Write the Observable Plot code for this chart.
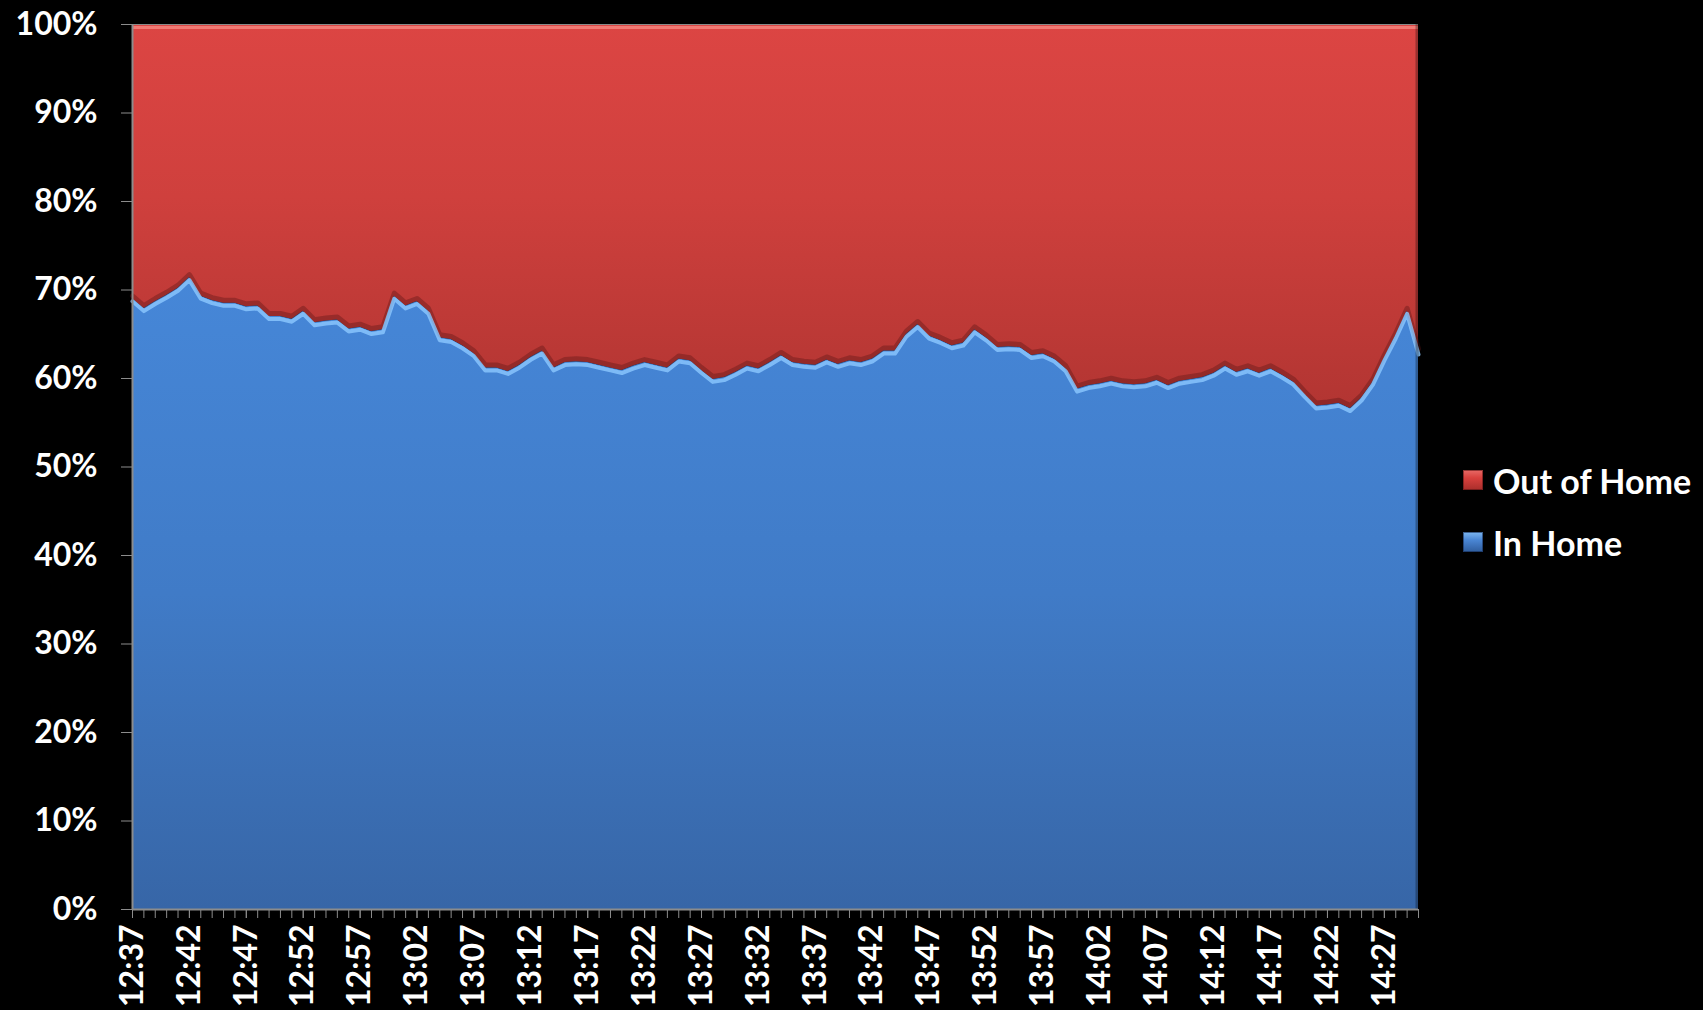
<!DOCTYPE html>
<html>
<head>
<meta charset="utf-8">
<script src="https://cdn.jsdelivr.net/npm/d3@7"></script>
<script src="https://cdn.jsdelivr.net/npm/@observablehq/plot@0.6"></script>
<style>
  html, body { margin: 0; padding: 0; background: #000; }
  #wrap { position: relative; width: 1703px; height: 1010px; overflow: hidden; background: #000; }
  #legend { position: absolute; left: 1463px; top: 459px; font-family: Lato, sans-serif; font-weight: 700; font-size: 34px; color: #fff; }
  #legend .item { display: flex; align-items: center; height: 42px; white-space: nowrap; }
  #legend .item + .item { margin-top: 20px; }
  #legend .sw { display: inline-block; width: 20px; height: 20px; margin-right: 10px; box-sizing: border-box; }
  #legend .sw.red { background: linear-gradient(180deg, #e86a66 0%, #d8403d 40%, #a92e2b 100%); box-shadow: inset 0 0 0 1px rgba(90,20,20,0.6); }
  #legend .sw.blue { background: linear-gradient(180deg, #7db7f0 0%, #4a86d4 40%, #2f5d9d 100%); box-shadow: inset 0 0 0 1px rgba(20,40,80,0.6); }
</style>
</head>
<body>
<div id="wrap">
  <div id="chart"></div>
  <div id="legend">
    <div class="item"><span class="sw red"></span>Out of Home</div>
    <div class="item"><span class="sw blue"></span>In Home</div>
  </div>
</div>
<script>
// Categories: one point per minute, 12:37 to 14:30
const times = [
  "12:37","12:38","12:39","12:40","12:41","12:42","12:43","12:44","12:45","12:46",
  "12:47","12:48","12:49","12:50","12:51","12:52","12:53","12:54","12:55","12:56",
  "12:57","12:58","12:59","13:00","13:01","13:02","13:03","13:04","13:05","13:06",
  "13:07","13:08","13:09","13:10","13:11","13:12","13:13","13:14","13:15","13:16",
  "13:17","13:18","13:19","13:20","13:21","13:22","13:23","13:24","13:25","13:26",
  "13:27","13:28","13:29","13:30","13:31","13:32","13:33","13:34","13:35","13:36",
  "13:37","13:38","13:39","13:40","13:41","13:42","13:43","13:44","13:45","13:46",
  "13:47","13:48","13:49","13:50","13:51","13:52","13:53","13:54","13:55","13:56",
  "13:57","13:58","13:59","14:00","14:01","14:02","14:03","14:04","14:05","14:06",
  "14:07","14:08","14:09","14:10","14:11","14:12","14:13","14:14","14:15","14:16",
  "14:17","14:18","14:19","14:20","14:21","14:22","14:23","14:24","14:25","14:26",
  "14:27","14:28","14:29","14:30"
];

// Series: share (%) In Home
const inHome = [
  69.0, 67.9, 68.7, 69.4, 70.2, 71.4, 69.3, 68.8, 68.5, 68.5,
  68.1, 68.2, 67.0, 67.0, 66.7, 67.6, 66.3, 66.5, 66.6, 65.6,
  65.8, 65.3, 65.5, 69.3, 68.2, 68.7, 67.6, 64.6, 64.4, 63.7,
  62.8, 61.2, 61.2, 60.8, 61.5, 62.4, 63.1, 61.2, 61.8, 61.9,
  61.8, 61.5, 61.2, 60.9, 61.4, 61.8, 61.5, 61.2, 62.2, 62.0,
  60.9, 59.9, 60.1, 60.7, 61.4, 61.1, 61.8, 62.6, 61.8, 61.6,
  61.5, 62.1, 61.6, 62.0, 61.8, 62.2, 63.1, 63.1, 65.0, 66.1,
  64.8, 64.3, 63.7, 64.0, 65.5, 64.6, 63.5, 63.6, 63.5, 62.6,
  62.8, 62.2, 61.1, 58.8, 59.2, 59.4, 59.7, 59.4, 59.3, 59.4,
  59.8, 59.2, 59.7, 59.9, 60.1, 60.6, 61.4, 60.7, 61.1, 60.6,
  61.1, 60.4, 59.6, 58.2, 56.9, 57.0, 57.2, 56.6, 57.8, 59.6,
  62.3, 64.8, 67.6, 63.0
];

// Series: share (%) Out of Home (complement of In Home)
const outOfHome = inHome.map(v => 100 - v);

// Tick labels
const xLabelTicks = ["12:37","12:42","12:47","12:52","12:57","13:02","13:07","13:12","13:17","13:22",
  "13:27","13:32","13:37","13:42","13:47","13:52","13:57","14:02","14:07","14:12","14:17","14:22","14:27"];
const yTicks = [0, 10, 20, 30, 40, 50, 60, 70, 80, 90, 100];

const table = times.map((t, i) => ({time: t, inHome: inHome[i], top: inHome[i] + outOfHome[i]}));

const chart = Plot.plot({
  width: 1703,
  height: 1010,
  marginTop: 24,
  marginBottom: 101,
  marginLeft: 132,
  marginRight: 285,
  style: {background: "black", color: "white", fontFamily: "Lato, sans-serif", fontSize: "32px", fontWeight: "700", overflow: "visible"},
  x: {type: "point", domain: times, padding: 0, label: null},
  y: {domain: [0, 100], label: null},
  marks: [
    Plot.areaY(table, {x: "time", y1: "inHome", y2: "top", fill: "url(#gradRed)"}),
    Plot.areaY(table, {x: "time", y1: 0, y2: "inHome", fill: "url(#gradBlue)"}),
    // bevel effects along the boundary
    Plot.lineY(table, {x: "time", y: "inHome", stroke: "#5e1616", strokeWidth: 5, strokeOpacity: 0.4, dy: -3}),
    Plot.lineY(table, {x: "time", y: "inHome", stroke: "#8cc8ff", strokeWidth: 4, strokeOpacity: 0.8, dy: 2.5}),
    Plot.ruleY([100], {stroke: "#f07a74", strokeWidth: 3, dy: 3}),
    Plot.ruleY([100], {stroke: "#8a8a8a", strokeWidth: 1}),
    Plot.ruleX([times[times.length - 1]], {stroke: "#000", strokeOpacity: 0.3, strokeWidth: 3, dx: -1.5}),
    // axes
    Plot.axisY({ticks: yTicks, tickFormat: d => d + "%", tickSize: 11, tickPadding: 24, stroke: "#8c8c8c", fill: "white", label: null}),
    Plot.axisX({ticks: times, tickFormat: () => "", tickSize: 9, stroke: "#8c8c8c", label: null}),
    Plot.axisX({ticks: xLabelTicks, tickSize: 9, tickPadding: 6, tickRotate: -90, stroke: "#8c8c8c", fill: "white", label: null}),
    Plot.ruleX([times[0]], {stroke: "#8c8c8c", strokeWidth: 2}),
    Plot.ruleY([0], {stroke: "#8c8c8c", strokeWidth: 2})
  ]
});

// gradients for the filled areas
const defs = d3.select(chart).insert("defs", ":first-child");
const gr = defs.append("linearGradient").attr("id", "gradRed").attr("x1", 0).attr("y1", 0).attr("x2", 0).attr("y2", 1);
gr.append("stop").attr("offset", "0%").attr("stop-color", "#dc4543");
gr.append("stop").attr("offset", "45%").attr("stop-color", "#cf403d");
gr.append("stop").attr("offset", "100%").attr("stop-color", "#b23532");
const gb = defs.append("linearGradient").attr("id", "gradBlue").attr("x1", 0).attr("y1", 0).attr("x2", 0).attr("y2", 1);
gb.append("stop").attr("offset", "0%").attr("stop-color", "#4687d8");
gb.append("stop").attr("offset", "50%").attr("stop-color", "#407bc7");
gb.append("stop").attr("offset", "100%").attr("stop-color", "#3766a7");

document.getElementById("chart").appendChild(chart);
</script>
</body>
</html>
